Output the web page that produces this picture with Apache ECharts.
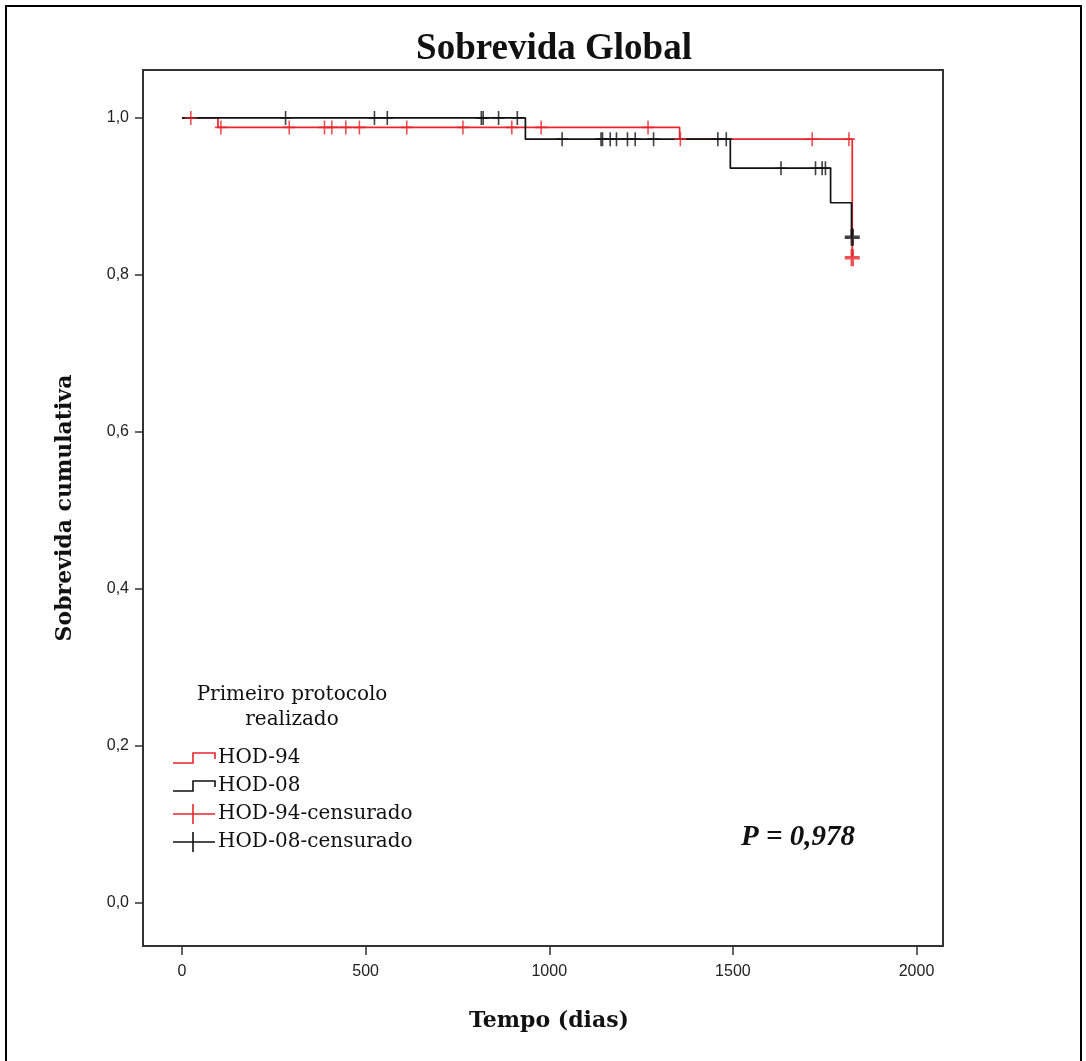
<!DOCTYPE html>
<html><head><meta charset="utf-8">
<script src="https://cdn.jsdelivr.net/npm/echarts@6/dist/echarts.min.js"></script>
<style>html,body{margin:0;padding:0;background:#fff}#c{width:1086px;height:1061px}</style>
</head><body><div id="c"></div>
<script>
// ---- data ----
const xTicks = [0, 500, 1000, 1500, 2000];
const yTicks = [0, 0.2, 0.4, 0.6, 0.8, 1.0];
const xRange = [-106.2, 2072.1];
const yRange = [-0.0548, 1.0611];
const hod94Times = [0, 98, 1355, 1825];
const hod94Surv  = [1, 0.988, 0.973, 0.822];
const hod08Times = [0, 935, 1493, 1766, 1823];
const hod08Surv  = [1, 0.973, 0.936, 0.892, 0.848];
const hod94Cens = [24, 106, 292, 388, 408, 446, 483, 612, 765, 898, 978, 1269, 1357, 1716, 1816];
const hod08Cens = [282, 524, 559, 815, 820, 862, 913, 1035, 1141, 1145, 1166, 1183, 1213, 1234, 1284, 1459, 1482, 1631, 1725, 1743, 1752];
const hod94CensEnd = [1825];
const hod08CensEnd = [1825];
const seriesNames = ['HOD-94', 'HOD-08', 'HOD-94-censurado', 'HOD-08-censurado'];
const legendTitle = ['Primeiro protocolo', 'realizado'];
const pText = 'P = 0,978';

const RED = '#e8262c', BLACK = '#111111';

function survAt(times, surv, t) {
  let s = surv[0];
  for (let i = 0; i < times.length; i++) if (times[i] <= t) s = surv[i];
  return s;
}
const zip = (a, b) => a.map((v, i) => [v, b[i]]);
const censPts = (c, times, surv) => c.map(t => [t, survAt(times, surv, t)]);

const PLUS = 'path://M5.2,0h1.6v6.2h5.2v1.6h-5.2v6.2h-1.6v-6.2h-5.2v-1.6h5.2z';
const PLUS_BOLD = 'path://M5,0h3v6h5v3h-5v6h-3v-6h-5v-3h5z';

const chart = echarts.init(document.getElementById('c'), null, {renderer: 'canvas'});

const serifB = 'DejaVu Serif';
const legendRows = [758, 786, 814, 842];
const g = [];
// outer frame
g.push({type: 'rect', shape: {x: 6, y: 6, width: 1075, height: 1075}, style: {fill: 'none', stroke: '#000', lineWidth: 2}, z: 0});
// plot box
g.push({type: 'rect', shape: {x: 143, y: 70, width: 800, height: 876}, style: {fill: 'none', stroke: '#333', lineWidth: 2}, z: 1});
// legend title
g.push({type: 'text', style: {text: legendTitle.join('\n'), x: 292, y: 707, align: 'center', verticalAlign: 'middle', font: '20px "DejaVu Serif"', fill: '#111', lineHeight: 25}, z: 5});
// legend icons
function stepIcon(cy, color) {
  return {type: 'polyline', shape: {points: [[173, cy + 5], [193, cy + 5], [193, cy - 5], [215, cy - 5], [215, cy + 1]]}, style: {stroke: color, lineWidth: 1.6, fill: 'none'}, z: 5};
}
function crossIcon(cy, color) {
  return [
    {type: 'line', shape: {x1: 173, y1: cy, x2: 215, y2: cy}, style: {stroke: color, lineWidth: 1.6}, z: 5},
    {type: 'line', shape: {x1: 193, y1: cy - 10, x2: 193, y2: cy + 10}, style: {stroke: color, lineWidth: 1.6}, z: 5}
  ];
}
g.push(stepIcon(legendRows[0], RED));
g.push(stepIcon(legendRows[1], BLACK));
g.push(...crossIcon(legendRows[2], RED));
g.push(...crossIcon(legendRows[3], BLACK));
seriesNames.forEach((n, i) => {
  g.push({type: 'text', style: {text: n, x: 218, y: legendRows[i], align: 'left', verticalAlign: 'middle', font: '20px "DejaVu Serif"', fill: '#111'}, z: 5});
});
// p value
g.push({type: 'text', style: {text: pText, x: 798, y: 838, align: 'center', verticalAlign: 'middle', font: 'italic bold 29px "Liberation Serif"', fill: '#111'}, z: 5});

const option = {
  backgroundColor: '#fff',
  animation: false,
  title: {
    text: 'Sobrevida Global', left: 549, top: 26, textAlign: 'center',
    textStyle: {fontFamily: 'Liberation Serif', fontWeight: 'bold', fontSize: 37, color: '#111'}
  },
  grid: {left: 143, right: 143, top: 70, bottom: 115, containLabel: false},
  xAxis: {
    type: 'value', min: xRange[0], max: xRange[1],
    name: 'Tempo (dias)', nameLocation: 'middle', nameGap: 64,
    nameTextStyle: {fontFamily: serifB, fontWeight: 'bold', fontSize: 22, color: '#111', padding: [0, 0, 0, 12]},
    axisLine: {show: false, onZero: false},
    axisTick: {show: true, length: 9, customValues: xTicks, lineStyle: {color: '#333', width: 1.5}},
    axisLabel: {margin: 18, customValues: xTicks, fontFamily: 'Liberation Sans', fontSize: 16, color: '#222',
      formatter: v => String(Math.round(v))},
    splitLine: {show: false}
  },
  yAxis: {
    type: 'value', min: yRange[0], max: yRange[1],
    name: 'Sobrevida cumulativa', nameLocation: 'middle', nameGap: 67,
    nameTextStyle: {fontFamily: serifB, fontWeight: 'bold', fontSize: 22, color: '#111'},
    axisLine: {show: false, onZero: false},
    axisTick: {show: true, length: 8, customValues: yTicks, lineStyle: {color: '#333', width: 1.5}},
    axisLabel: {margin: 14, customValues: yTicks, fontFamily: 'Liberation Sans', fontSize: 16, color: '#222',
      formatter: v => v.toFixed(1).replace('.', ',')},
    splitLine: {show: false}
  },
  graphic: g,
  series: [
    {name: seriesNames[0], type: 'line', step: 'end', data: zip(hod94Times, hod94Surv), showSymbol: false, clip: false,
      lineStyle: {color: RED, width: 1.7}, z: 2},
    {name: seriesNames[1], type: 'line', step: 'end', data: zip(hod08Times, hod08Surv), showSymbol: false, clip: false,
      lineStyle: {color: BLACK, width: 1.7}, z: 3},
    {name: seriesNames[2], type: 'scatter', data: censPts(hod94Cens, hod94Times, hod94Surv), symbol: PLUS, symbolSize: [12, 14],
      itemStyle: {color: RED}, clip: false, z: 4},
    {name: seriesNames[3], type: 'scatter', data: censPts(hod08Cens, hod08Times, hod08Surv), symbol: PLUS, symbolSize: [12, 14],
      itemStyle: {color: BLACK}, clip: false, z: 5},
    {name: seriesNames[2] + ' (fim)', type: 'scatter', data: censPts(hod94CensEnd, hod94Times, hod94Surv), symbol: PLUS_BOLD, symbolSize: [15, 17],
      itemStyle: {color: RED}, clip: false, z: 4},
    {name: seriesNames[3] + ' (fim)', type: 'scatter', data: censPts(hod08CensEnd, hod08Times, hod08Surv), symbol: PLUS_BOLD, symbolSize: [15, 17],
      itemStyle: {color: BLACK}, clip: false, z: 5}
  ]
};
chart.setOption(option);
</script>
</body></html>
